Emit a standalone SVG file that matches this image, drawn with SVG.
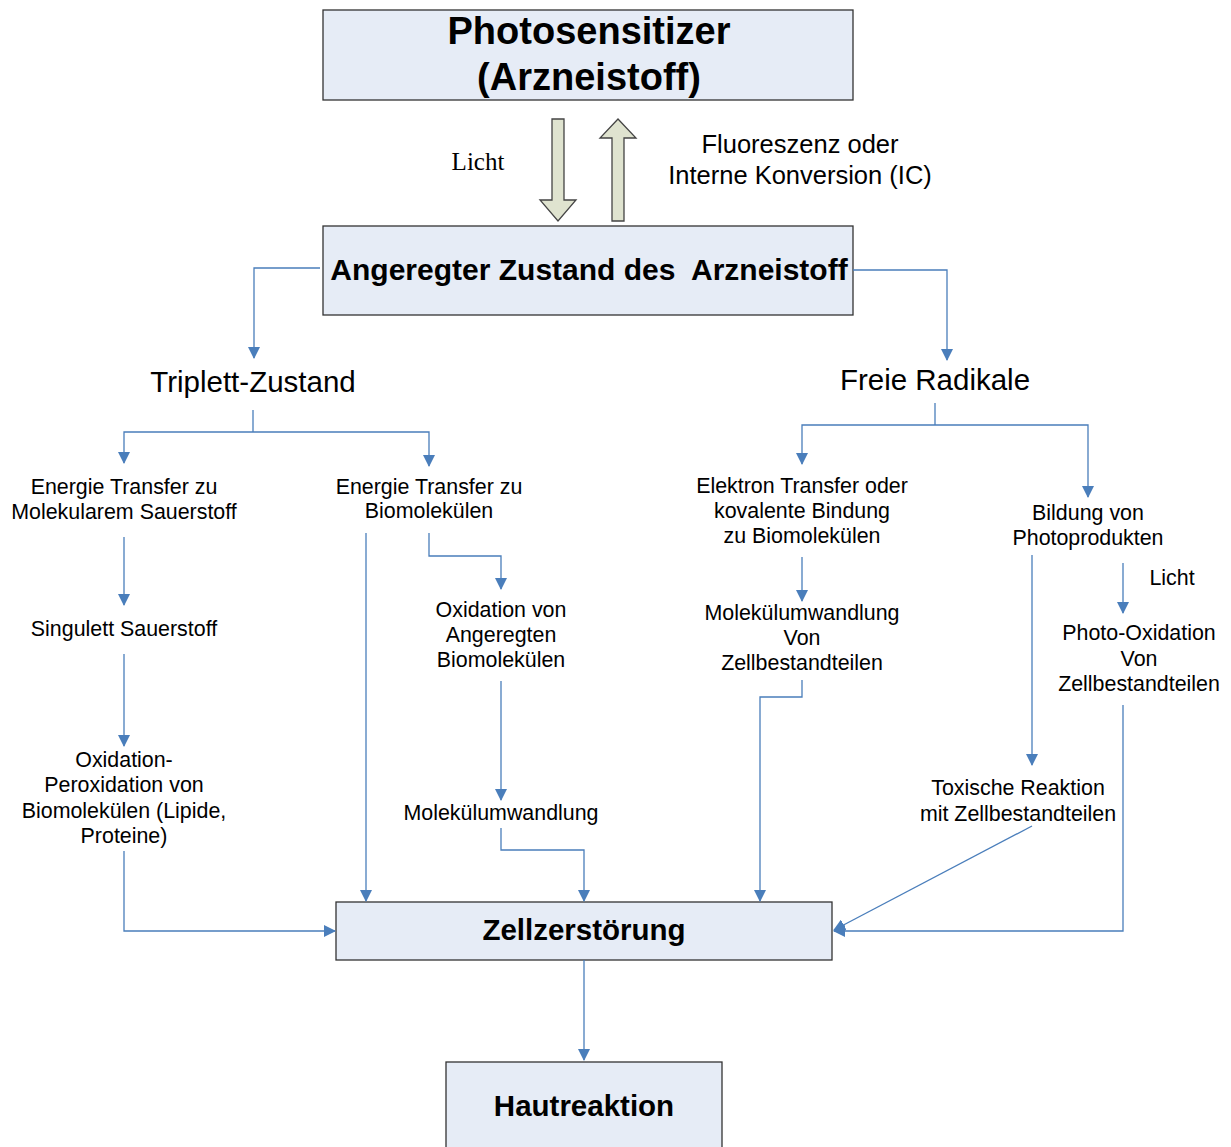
<svg xmlns="http://www.w3.org/2000/svg" width="1231" height="1147" viewBox="0 0 1231 1147">
<style>
.box{fill:#e6ecf6;stroke:#333;stroke-width:1.3}
.bt{font-family:"Liberation Sans",Arial,sans-serif;font-weight:bold;fill:#000;text-anchor:middle}
.t{font-family:"Liberation Sans",Arial,sans-serif;font-size:21.4px;fill:#000;text-anchor:middle}
.big{font-family:"Liberation Sans",Arial,sans-serif;font-size:29.5px;fill:#000;text-anchor:middle}
.c{fill:none;stroke:#4a7ebb;stroke-width:1.3}
.blk{fill:#dfe3cf;stroke:#444;stroke-width:1.3}
</style>
<defs>
<marker id="a" viewBox="0 0 12 12" refX="11" refY="6" markerWidth="12" markerHeight="12" markerUnits="userSpaceOnUse" orient="auto">
<path d="M0,0 L12,6 L0,12 Z" fill="#4a7ebb"/>
</marker>
</defs>
<rect width="1231" height="1147" fill="#fff"/>

<g id="photosensitizer">
<rect class="box" x="323" y="10" width="530" height="90"/>
<text class="bt" x="589" y="44" font-size="38">Photosensitizer</text>
<text class="bt" x="589" y="90" font-size="38">(Arzneistoff)</text>
</g>

<g id="light-arrows">
<path class="blk" d="M552,119 H564 V200 H576 L558,221 L540,200 H552 Z"/>
<path class="blk" d="M612,221 H624 V138 H636 L618,119 L600,138 H612 Z"/>
<text x="478" y="170" font-family="Liberation Serif,'Times New Roman',serif" font-size="25" text-anchor="middle">Licht</text>
<text class="t" x="800" y="153" style="font-size:25.5px">Fluoreszenz oder</text>
<text class="t" x="800" y="184" style="font-size:25.5px">Interne Konversion (IC)</text>
</g>

<g id="angeregter">
<rect class="box" x="323" y="226" width="530" height="89"/>
<text class="bt" x="589" y="280" font-size="30" xml:space="preserve">Angeregter Zustand des  Arzneistoff</text>
</g>

<g id="triplett"><text class="big" x="253" y="392">Triplett-Zustand</text></g>
<g id="radikale"><text class="big" x="935" y="390">Freie Radikale</text></g>

<g id="et-sauerstoff"><text class="t" x="124" y="494">Energie Transfer zu</text><text class="t" x="124" y="519">Molekularem Sauerstoff</text></g>
<g id="et-bio"><text class="t" x="429" y="494">Energie Transfer zu</text><text class="t" x="429" y="518">Biomolekülen</text></g>
<g id="singulett"><text class="t" x="124" y="636">Singulett Sauerstoff</text></g>
<g id="oxperox"><text class="t" x="124" y="767">Oxidation-</text><text class="t" x="124" y="792">Peroxidation von</text><text class="t" x="124" y="818">Biomolekülen (Lipide,</text><text class="t" x="124" y="843">Proteine)</text></g>
<g id="oxangeregt"><text class="t" x="501" y="617">Oxidation von</text><text class="t" x="501" y="642">Angeregten</text><text class="t" x="501" y="667">Biomolekülen</text></g>
<g id="molwand1"><text class="t" x="501" y="820">Molekülumwandlung</text></g>
<g id="elektron"><text class="t" x="802" y="493">Elektron Transfer oder</text><text class="t" x="802" y="518">kovalente Bindung</text><text class="t" x="802" y="543">zu Biomolekülen</text></g>
<g id="bildung"><text class="t" x="1088" y="520">Bildung von</text><text class="t" x="1088" y="545">Photoprodukten</text></g>
<g id="molwand2"><text class="t" x="802" y="620">Molekülumwandlung</text><text class="t" x="802" y="645">Von</text><text class="t" x="802" y="670">Zellbestandteilen</text></g>
<g id="licht2"><text class="t" x="1172" y="585">Licht</text></g>
<g id="photoox"><text class="t" x="1139" y="640">Photo-Oxidation</text><text class="t" x="1139" y="666">Von</text><text class="t" x="1139" y="691">Zellbestandteilen</text></g>
<g id="toxisch"><text class="t" x="1018" y="795">Toxische Reaktion</text><text class="t" x="1018" y="821">mit Zellbestandteilen</text></g>

<g id="zellzerstoerung">
<rect class="box" x="336" y="902" width="496" height="58"/>
<text class="bt" x="584" y="940" font-size="29.5">Zellzerstörung</text>
</g>
<g id="hautreaktion">
<rect class="box" x="446" y="1062" width="276" height="95"/>
<text class="bt" x="584" y="1116" font-size="29.5">Hautreaktion</text>
</g>

<g id="connectors">
<path class="c" marker-end="url(#a)" d="M320,268 H254 V358"/>
<path class="c" marker-end="url(#a)" d="M853,270 H947 V360"/>
<path class="c" d="M253,410 V432"/>
<path class="c" marker-end="url(#a)" d="M253,432 H124 V463"/>
<path class="c" marker-end="url(#a)" d="M253,432 H429 V466"/>
<path class="c" marker-end="url(#a)" d="M124,537 V605"/>
<path class="c" marker-end="url(#a)" d="M124,654 V746"/>
<path class="c" marker-end="url(#a)" d="M124,851 V931 H335"/>
<path class="c" marker-end="url(#a)" d="M366,533 V901"/>
<path class="c" marker-end="url(#a)" d="M429,533 V556 H501 V589"/>
<path class="c" marker-end="url(#a)" d="M501,681 V800"/>
<path class="c" marker-end="url(#a)" d="M501,828 V850 H584 V901"/>
<path class="c" d="M935,403 V425"/>
<path class="c" marker-end="url(#a)" d="M935,425 H802 V464"/>
<path class="c" marker-end="url(#a)" d="M935,425 H1088 V497"/>
<path class="c" marker-end="url(#a)" d="M802,557 V601"/>
<path class="c" marker-end="url(#a)" d="M802,680 V697 H760 V901"/>
<path class="c" marker-end="url(#a)" d="M1032,555 V765"/>
<path class="c" marker-end="url(#a)" d="M1123,563 V613"/>
<path class="c" marker-end="url(#a)" d="M1032,826 L834,930"/>
<path class="c" marker-end="url(#a)" d="M1123,705 V931 H834"/>
<path class="c" marker-end="url(#a)" d="M584,960 V1060"/>
</g>
</svg>
